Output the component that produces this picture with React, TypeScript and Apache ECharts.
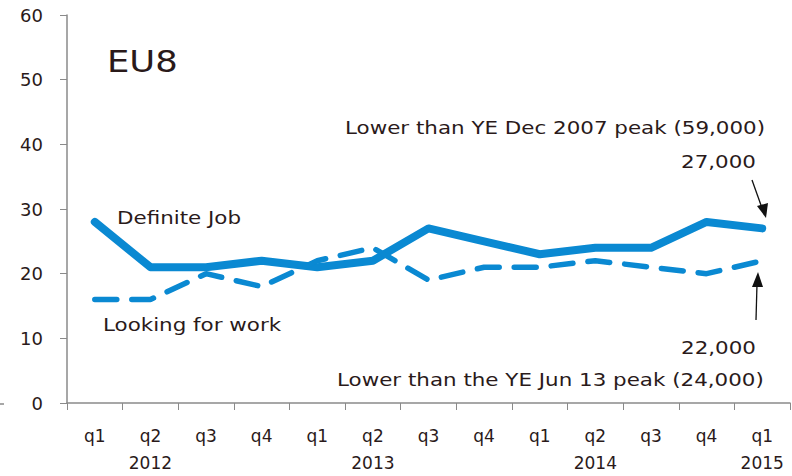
import React, { useEffect, useRef } from "react";
import * as echarts from "echarts";

const quarters = ["q1", "q2", "q3", "q4", "q1", "q2", "q3", "q4", "q1", "q2", "q3", "q4", "q1"];
const years = ["", "2012", "", "", "", "2013", "", "", "", "2014", "", "", "2015"];
const definiteJob = [28, 21, 21, 22, 21, 22, 27, 25, 23, 24, 24, 28, 27];
const lookingForWork = [16, 16, 20, 18, 22, 24, 19, 21, 21, 22, 21, 20, 22];

const FONT = "'DejaVu Sans', sans-serif";
const TXT = "#2a1a1a";
const BLUE = "#0a89d2";
const SX = 1.26;

export default function App() {
  const ref = useRef<HTMLDivElement>(null);
  useEffect(() => {
    if (!ref.current) return;
    const chart = echarts.init(ref.current, null, { renderer: "svg" });
    const categories = quarters.map((q, i) => (years[i] ? q + "\n" + years[i] : q));
    const text = (x: number, y: number, t: string, size = 17, align = "left", sx = SX) => ({
      type: "text",
      x,
      y,
      scaleX: sx,
      style: { text: t, fill: TXT, font: `${size}px ${FONT}`, textAlign: align, textVerticalAlign: "middle" },
    });
    chart.setOption({
      animation: false,
      grid: { left: 67, right: 2, top: 15, bottom: 72 },
      xAxis: {
        type: "category",
        data: categories,
        boundaryGap: true,
        axisLine: { lineStyle: { color: "#8a8a8a", width: 1.5 } },
        axisTick: { show: true, length: 7, lineStyle: { color: "#8a8a8a" } },
        axisLabel: { color: TXT, fontSize: 17, fontFamily: FONT, margin: 19, lineHeight: 27, interval: 0 },
      },
      yAxis: {
        type: "value",
        min: 0,
        max: 60,
        interval: 10,
        splitLine: { show: false },
        axisLine: { show: true, lineStyle: { color: "#8a8a8a", width: 1.5 } },
        axisTick: { show: true, length: 7, lineStyle: { color: "#8a8a8a" } },
        axisLabel: { color: TXT, fontSize: 18, fontFamily: FONT, margin: 24 },
      },
      series: [
        {
          name: "Definite Job",
          type: "line",
          data: definiteJob,
          symbol: "none",
          lineStyle: { color: BLUE, width: 8, cap: "round", join: "round" },
        },
        {
          name: "Looking for work",
          type: "line",
          data: lookingForWork,
          symbol: "none",
          lineStyle: { color: BLUE, width: 5.5, type: [22, 15], cap: "round" },
        },
      ],
      graphic: [
        { type: "line", shape: { x1: 0, y1: 404, x2: 4, y2: 404 }, style: { stroke: "#8a8a8a", lineWidth: 1.5 } },
        text(107, 62, "EU8", 30, "left", 1.18),
        text(117, 218, "Definite Job"),
        text(103, 325, "Looking for work"),
        text(345, 128, "Lower than YE Dec 2007 peak (59,000)"),
        text(756, 162, "27,000", 17, "right"),
        text(756, 348, "22,000", 17, "right"),
        text(337, 380, "Lower than the YE Jun 13 peak (24,000)"),
        { type: "line", shape: { x1: 752, y1: 180, x2: 762, y2: 208 }, style: { stroke: "#111", lineWidth: 1.3 } },
        { type: "polygon", shape: { points: [[757, 206], [768, 203], [766, 218]] }, style: { fill: "#111" } },
        { type: "line", shape: { x1: 756, y1: 320, x2: 757, y2: 284 }, style: { stroke: "#111", lineWidth: 1.3 } },
        { type: "polygon", shape: { points: [[752, 287], [763, 287], [758, 272]] }, style: { fill: "#111" } },
      ],
    });
    return () => chart.dispose();
  }, []);
  return <div ref={ref} style={{ position: "absolute", left: 0, top: 0, width: 792, height: 476 }} />;
}
